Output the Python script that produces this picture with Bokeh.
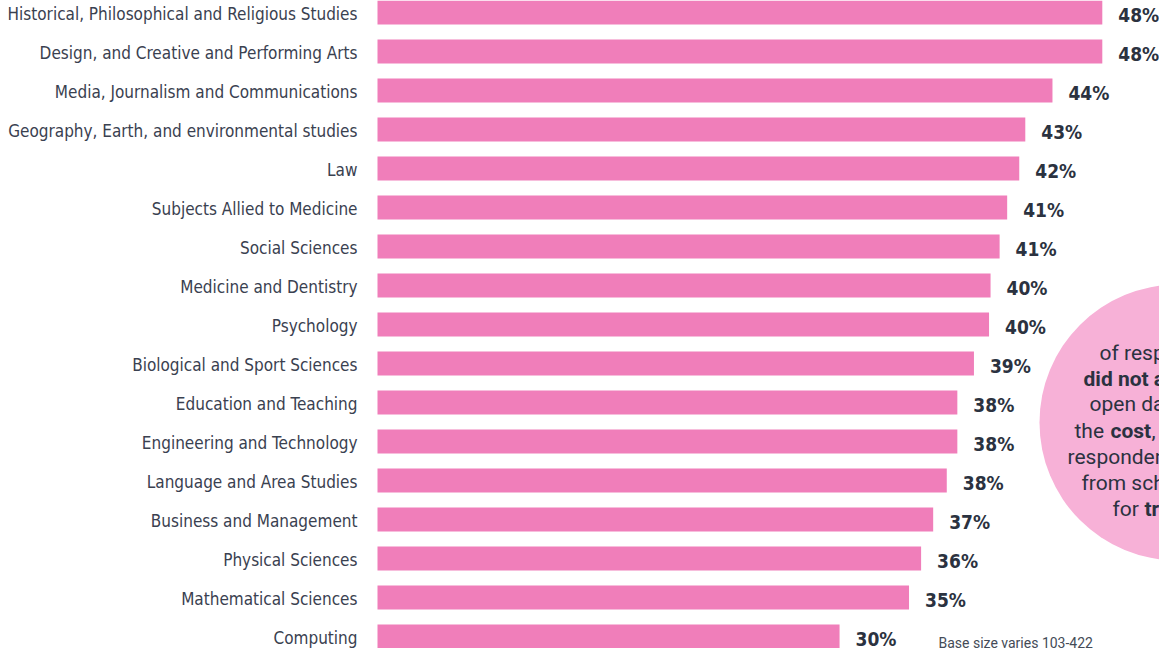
from bokeh.plotting import figure
from bokeh.models import Range1d, ColumnDataSource
from bokeh.core.properties import value
from bokeh.embed import file_html
from bokeh.resources import INLINE

categories = [
    "Historical, Philosophical and Religious Studies",
    "Design, and Creative and Performing Arts",
    "Media, Journalism and Communications",
    "Geography, Earth, and environmental studies",
    "Law",
    "Subjects Allied to Medicine",
    "Social Sciences",
    "Medicine and Dentistry",
    "Psychology",
    "Biological and Sport Sciences",
    "Education and Teaching",
    "Engineering and Technology",
    "Language and Area Studies",
    "Business and Management",
    "Physical Sciences",
    "Mathematical Sciences",
    "Computing",
]
# bar lengths (percent)
bar_values = [48.0, 48.0, 44.7, 42.9, 42.5, 41.7, 41.2, 40.6, 40.5, 39.5,
              38.4, 38.4, 37.7, 36.8, 36.0, 35.2, 30.6]
# labels as printed
value_labels = ["48%", "48%", "44%", "43%", "42%", "41%", "41%", "40%", "40%",
                "39%", "38%", "38%", "38%", "37%", "36%", "35%", "30%"]

footnote = "Base size varies 103-422"

BAR = "#F07EBA"
CIRCLE = "#F7B1D7"
DARK = "#2B3240"
LABEL = "#3A4150"
NARROW = "DejaVu Sans Condensed"

W, H = 1159, 648
k = 15.1          # px per percent
x0 = 377          # plot-x of the zero line
y0 = 12           # plot-y of first bar centre
step = 39.0       # px between bars

p = figure(width=W, height=H, output_backend="svg", toolbar_location=None,
           x_range=Range1d(-x0 / k, (W - x0) / k),
           y_range=Range1d((H - y0) / step, -y0 / step),
           min_border=0, outline_line_color=None)
p.axis.visible = False
p.grid.visible = False
p.background_fill_color = "white"
p.border_fill_color = "white"

idx = list(range(len(categories)))
src = ColumnDataSource(dict(y=idx, cat=categories, v=bar_values, lab=value_labels))

# highlight circle (partly outside the window)
cx = (1185 - 8 - x0) / k
cy = (430 - 8 - y0) / step
p.circle(x=[cx], y=[cy], radius=138, radius_units="screen",
         fill_color=CIRCLE, line_color=None)

p.hbar(y="y", left=0, right="v", height=24 / step, source=src,
       fill_color=BAR, line_color=None)

p.text(x=0, y="y", text="cat", source=src, x_offset=-20, y_offset=1,
       text_align="right", text_baseline="middle",
       text_font=value(NARROW), text_font_size="17px", text_color=LABEL)

p.text(x="v", y="y", text="lab", source=src, x_offset=16, y_offset=2,
       text_align="left", text_baseline="middle",
       text_font=value(NARROW), text_font_size="19px", text_font_style="bold",
       text_color=DARK)

# circle text pieces (left-aligned at offsets from the circle centre)
circle_text = ["5", "of respondents", "did not access", "open data due to",
               "the ", "cost", ", and", "respondents", "from schools",
               "for ", "training"]
ct_dx = [-17, -78, -94, -88, -103, -67, -26, -110, -96, -65, -33]
ct_dy = [-97, -70, -44, -19, 8, 8, 8, 34, 60, 86, 86]
ct_bold = [True, False, True, False, False, True, False, False, False, False, True]
for t, dx, dy, b in zip(circle_text, ct_dx, ct_dy, ct_bold):
    p.text(x=[cx], y=[cy], text=[t], x_offset=dx, y_offset=dy,
           text_align="left", text_baseline="middle",
           text_font=value("Roboto"), text_font_size="21px",
           text_font_style="bold" if b else "normal", text_color=DARK)

p.text(x=[(946 - 8 - x0) / k], y=[16], text=[footnote], y_offset=6,
       text_align="left", text_baseline="alphabetic",
       text_font=value("Roboto"), text_font_size="14px", text_color="#444B57")

open("out.html", "w").write(file_html(p, INLINE))
